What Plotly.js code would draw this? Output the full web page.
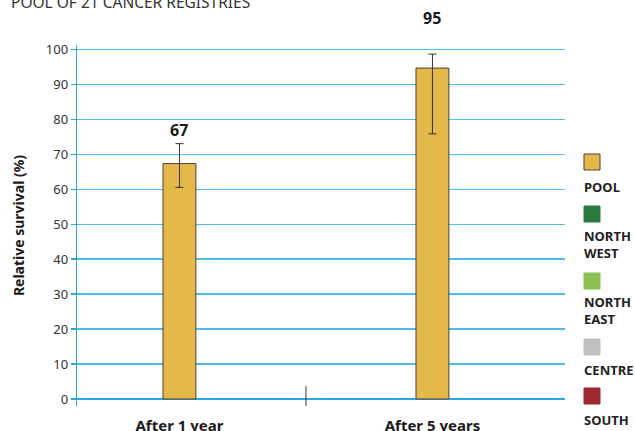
<!DOCTYPE html>
<html><head><meta charset="utf-8">
<script src="https://cdn.plot.ly/plotly-3.0.1.min.js"></script>
<style>html,body{margin:0;padding:0;background:#fff}#c{width:635px;height:431px}</style>
</head><body><div id="c"></div>
<script>
const categories = ['After 1 year', 'After 5 years'];
const poolValues = [67.3, 94.6];
const ciUpper = [73.0, 98.6];
const ciLower = [60.5, 75.8];
const valueLabels = ['67', '95'];
const labelY = [77, 109];
const regions = ['POOL', 'NORTH<br>WEST', 'NORTH<br>EAST', 'CENTRE', 'SOUTH'];
const regionColors = ['#e5b84a', '#2a7a3f', '#8cc152', '#bdbfc1', '#a1282e'];
const yTicks = [0,10,20,30,40,50,60,70,80,90,100];

const xs = categories.map((c,i)=>i);
const FONT = 'Noto Sans, Open Sans, sans-serif';
const Y_RANGE = [-2, 101.2];
const toPaper = v => (v - Y_RANGE[0]) / (Y_RANGE[1] - Y_RANGE[0]);

const traces = [{
  type: 'bar', x: xs, y: poolValues, width: 0.13,
  marker: {color: regionColors[0], line: {color: '#4a4030', width: 1}},
  error_y: {type: 'data', symmetric: false,
    array: poolValues.map((v,i)=>ciUpper[i]-v),
    arrayminus: poolValues.map((v,i)=>v-ciLower[i]),
    color: '#333333', thickness: 1, width: 4},
  showlegend: false, hoverinfo: 'skip', cliponaxis: false
}];

const annotations = valueLabels.map((t,i)=>({
  x: xs[i], y: toPaper(labelY[i]), xref: 'x', yref: 'paper', yanchor: 'middle', xanchor: 'center',
  text: '<b>'+t+'</b>',
  showarrow: false, font: {family: FONT, size: 16, color: '#1a1a1a'}
}));

const shapes = [{type: 'line', xref: 'x', yref: 'paper', x0: 0.5, x1: 0.5, y0: 0, y1: 0.055,
  line: {color: '#333', width: 1}}];

// custom legend: square with label below
const legTop = [154, 206, 273, 339, 388];
const labCenter = [187, 244.5, 310.5, 370, 420];
regions.forEach((r,i)=>{
  shapes.push({type:'rect', xref:'paper', yref:'paper', layer:'above',
    x0: (584-77)/488, x1: (600-77)/488,
    y0: (431-25-legTop[i]-16)/361, y1: (431-25-legTop[i])/361,
    fillcolor: regionColors[i], line: {color: i===0 ? '#4a4030' : regionColors[i], width: 1}});
  annotations.push({xref:'paper', yref:'paper', x:(582-77)/488, y:(431-25-labCenter[i])/361,
    xanchor:'left', yanchor:'middle', align:'left', showarrow:false,
    text:'<b>'+r+'</b>', font:{family: FONT, size: 13, color:'#222'}});
});

const layout = {
  width: 635, height: 431,
  margin: {l: 77, r: 70, t: 45, b: 25},
  paper_bgcolor: '#fff', plot_bgcolor: '#fff',
  title: {text: 'POOL OF 21 CANCER REGISTRIES', x: 11/635, xanchor: 'left',
    y: 1 - 2.5/431, yanchor: 'middle', yref: 'container',
    font: {family: FONT, size: 15.5, color: '#333'}},
  xaxis: {range: [-0.405, 1.524], tickvals: xs, ticktext: categories.map(c=>'<b>'+c+'</b>'),
    showgrid: false, zeroline: false, showline: false, ticks: 'outside', ticklen: 6, tickcolor: 'rgba(0,0,0,0)',
    tickfont: {family: FONT, size: 15, color: '#1a1a1a'}, fixedrange: true},
  yaxis: {range: Y_RANGE, tickvals: yTicks, showgrid: true, gridcolor: '#4dbbeb', gridwidth: 1.2,
    zeroline: true, zerolinecolor: '#29a9e1', zerolinewidth: 1.3,
    showline: true, linecolor: '#29a9e1', linewidth: 1.3,
    ticks: 'outside', ticklen: 5, tickcolor: '#29a9e1', tickwidth: 1.2,
    tickfont: {family: FONT, size: 13, color: '#333'},
    title: {text: '<b>Relative survival (%)</b>', standoff: 18, font: {family: FONT, size: 14, color: '#1a1a1a'}}},
  shapes: shapes, annotations: annotations, bargap: 0
};
Plotly.newPlot('c', traces, layout, {displayModeBar: false, staticPlot: true});
</script></body></html>
